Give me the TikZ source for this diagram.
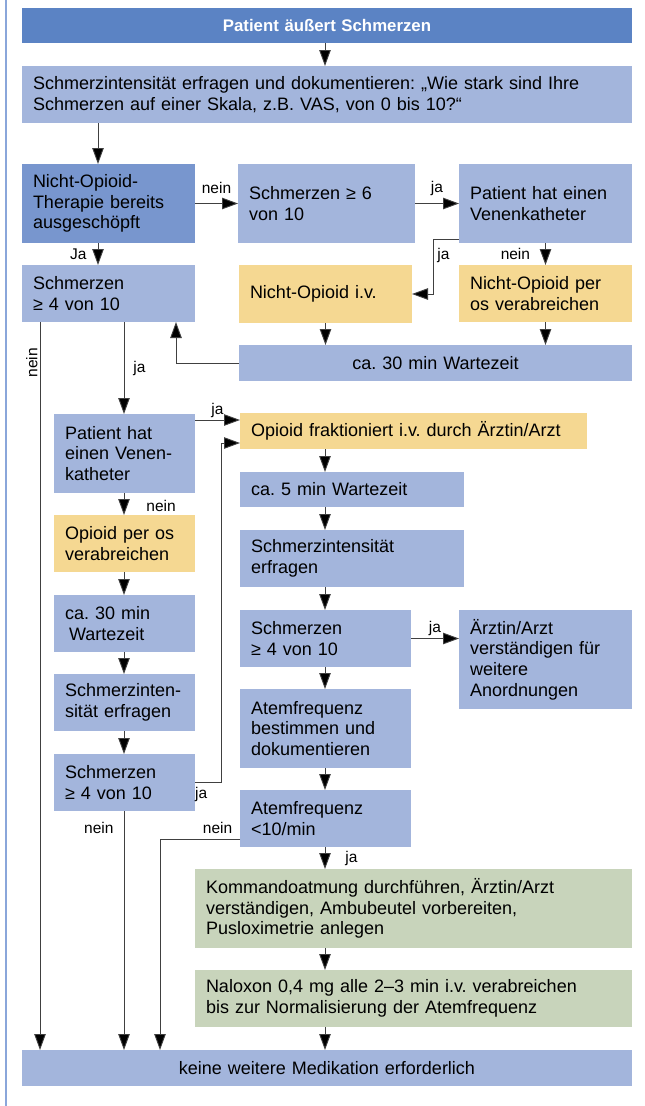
\documentclass[tikz,border=0pt]{standalone}
\usepackage{fontspec}
\setmainfont{Liberation Sans}
\usepackage{tikz}
\usetikzlibrary{arrows.meta}
\frenchspacing

\definecolor{titelblau}{RGB}{91,131,196}
\definecolor{dunkelblau}{RGB}{120,150,206}
\definecolor{hellblau}{RGB}{163,181,220}
\definecolor{gelbton}{RGB}{245,216,146}
\definecolor{gruenton}{RGB}{200,212,187}
\definecolor{randblau}{RGB}{138,166,218}

\begin{document}
\begin{tikzpicture}[x=1pt,y=-1pt]
\tikzstyle{feld} = [anchor=north west, inner xsep=11pt, inner ysep=0pt, outer sep=0pt, align=left, font=\fontsize{18}{20.7}\selectfont]
\tikzstyle{hell} = [feld, fill=hellblau]
\tikzstyle{dunkel} = [feld, fill=dunkelblau]
\tikzstyle{gelb} = [feld, fill=gelbton]
\tikzstyle{gruen} = [feld, fill=gruenton]
\tikzstyle{pfeil} = [draw=black!75, line width=0.9pt, -{Triangle[length=16pt,width=11.5pt,fill=black]}]
\tikzstyle{lbl} = [inner sep=2pt, font=\fontsize{15.5}{17}\selectfont]

\useasboundingbox (0,0) rectangle (645,1106);
\draw[randblau, line width=1.5pt] (6,0) -- (6,1106);

% kopf
\node[feld, fill=titelblau, text=white, align=center, text width=588pt, minimum height=35pt,
  font=\fontsize{16.8}{20}\selectfont\bfseries] (kopf) at (22,8) {Patient äußert Schmerzen};
\node[hell, text width=588pt, minimum height=57pt] (frage) at (22,66)
  {Schmerzintensität erfragen und dokumentieren: „Wie stark sind Ihre\\Schmerzen auf einer Skala, z.B. VAS, von 0 bis 10?“};

% nicht-opioid
\node[dunkel, text width=151pt, minimum height=79pt] (nopt) at (22,164) {Nicht-Opioid-\\Therapie bereits\\ausgeschöpft};
\node[hell, text width=155pt, minimum height=79pt] (s6) at (238,164) {Schmerzen ≥ 6\\von 10};
\node[hell, text width=151pt, minimum height=79pt] (vk1) at (459,164) {Patient hat einen\\Venenkatheter};
\node[hell, text width=151pt, minimum height=57pt] (s4a) at (22,265) {Schmerzen\\≥ 4 von 10};
\node[gelb, text width=151pt, minimum height=58pt] (noiv) at (239,265) {Nicht-Opioid i.v.};
\node[gelb, text width=151pt, minimum height=57pt] (nopo) at (459,265) {Nicht-Opioid per\\os verabreichen};
\node[hell, align=center, text width=371pt, minimum height=36pt] (wz30a) at (239,345) {ca. 30 min Wartezeit};

% opioid links
\node[hell, text width=119pt, minimum height=79pt] (vk2) at (54,414) {Patient hat\\einen Venen-\\katheter};
\node[gelb, text width=119pt, minimum height=57pt] (oppo) at (54,515) {Opioid per os\\verabreichen};
\node[hell, text width=119pt, minimum height=57pt] (wz30b) at (54,595) {ca. 30 min\\\hspace*{4pt}Wartezeit};
\node[hell, text width=119pt, minimum height=57pt] (sint2) at (54,674) {Schmerzinten-\\sität erfragen};
\node[hell, text width=119pt, minimum height=57pt] (s4b) at (54,754) {Schmerzen\\≥ 4 von 10};

% opioid i.v.
\node[gelb, text width=325pt, minimum height=36pt] (opiv) at (240,413) {Opioid fraktioniert i.v. durch Ärztin/Arzt};
\node[hell, text width=202pt, minimum height=35pt] (wz5) at (240,472) {ca. 5 min Wartezeit};
\node[hell, text width=202pt, minimum height=57pt] (sint) at (240,530) {Schmerzintensität\\erfragen};
\node[hell, text width=149pt, minimum height=57pt] (s4c) at (240,610) {Schmerzen\\≥ 4 von 10};
\node[hell, text width=151pt, minimum height=99pt] (arzt) at (459,610) {Ärztin/Arzt\\verständigen für\\weitere\\Anordnungen};
\node[hell, text width=149pt, minimum height=79pt] (atem) at (240,689) {Atemfrequenz\\bestimmen und\\dokumentieren};
\node[hell, text width=149pt, minimum height=57pt] (atem10) at (240,790) {Atemfrequenz\\<10/min};
\node[gruen, text width=415pt, minimum height=79pt] (komm) at (195,869)
  {Kommandoatmung durchführen, Ärztin/Arzt\\verständigen, Ambubeutel vorbereiten,\\Pusloximetrie anlegen};
\node[gruen, text width=415pt, minimum height=57pt] (nalo) at (195,970)
  {Naloxon 0,4 mg alle 2–3 min i.v. verabreichen\\bis zur Normalisierung der Atemfrequenz};
\node[hell, align=center, text width=588pt, minimum height=36pt] (ende) at (22,1050) {keine weitere Medikation erforderlich};

\coordinate (lx) at (40,0);
\coordinate (ax) at (98,0);
\coordinate (bx) at (124,0);
\coordinate (nx) at (160,0);
\coordinate (rx) at (176,0);
\coordinate (jx) at (221,0);
\coordinate (mx) at (325,0);
\coordinate (vx) at (433,0);
\coordinate (ophi) at ([yshift=11pt]opiv.west);
\coordinate (oplo) at ([yshift=-12pt]opiv.west);

\draw[pfeil] (kopf.south -| mx) -- (frage.north -| mx);
\draw[pfeil] (frage.south -| ax) -- (nopt.north -| ax);
\draw[pfeil] (nopt) -- node[lbl, above=7pt] {nein} (s6);
\draw[pfeil] (s6) -- node[lbl, above=5pt] {ja} (vk1);
\draw[pfeil] (nopt.south -| ax) -- node[lbl, left=9pt] {Ja} (s4a.north -| ax);
\draw[pfeil] ([yshift=4pt]vk1.south west) -| node[lbl, right=2pt, pos=0.65] {ja} (vx |- noiv.east) -- (noiv.east);
\draw[pfeil] (vk1) -- node[lbl, left=13pt] {nein} (nopo);
\draw[pfeil] (noiv) -- (noiv |- wz30a.north);
\draw[pfeil] (nopo) -- (nopo |- wz30a.north);
\draw[pfeil] (wz30a.west) -| (rx |- s4a.south);

\draw[pfeil] (s4a.south -| lx) -- node[lbl, rotate=90, anchor=south, pos=0.056] {nein} (ende.north -| lx);
\draw[pfeil] (s4a.south -| bx) -- node[lbl, right=7pt] {ja} (vk2.north -| bx);
\draw[pfeil] (vk2.east |- ophi) -- node[lbl, above] {ja} (ophi);
\draw[pfeil] (vk2.south -| bx) -- node[lbl, right=20pt, pos=0.6] {nein} (oppo.north -| bx);
\foreach \a/\b in {oppo/wz30b, wz30b/sint2, sint2/s4b}
  \draw[pfeil] (\a.south -| bx) -- (\b.north -| bx);
\draw[pfeil] (s4b.east) -| node[lbl, below=2pt, pos=0.12] {ja} (jx |- oplo) -- (oplo);
\draw[pfeil] (s4b.south -| bx) -- node[lbl, left=8pt, pos=0.07] {nein} (ende.north -| bx);

\foreach \a/\b in {opiv/wz5, wz5/sint, sint/s4c, s4c/atem, atem/atem10, komm/nalo, nalo/ende}
  \draw[pfeil] (\a.south -| mx) -- (\b.north -| mx);
\draw[pfeil] (s4c.east) -- node[lbl, above] {ja} (s4c.east -| arzt.west);
\draw[pfeil] (atem10.south -| mx) -- node[lbl, right=18pt] {ja} (komm.north -| mx);
\draw[pfeil] ([yshift=8pt]atem10.south west) -| node[lbl, above=3pt, pos=0.14] {nein} (ende.north -| nx);

\end{tikzpicture}
\end{document}
